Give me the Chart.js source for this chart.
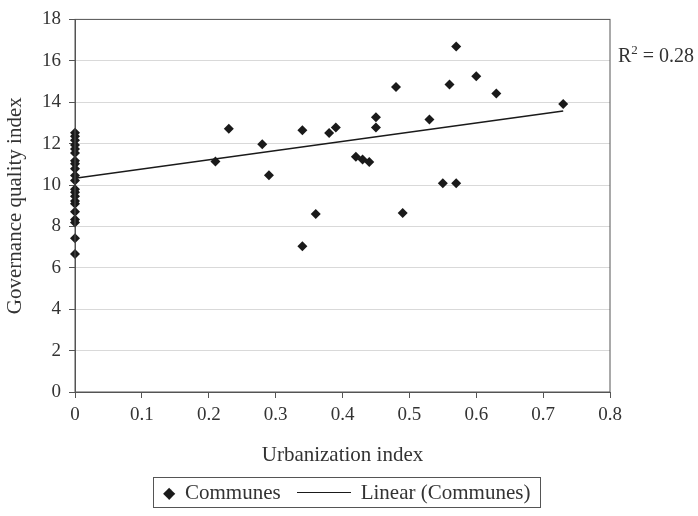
<!DOCTYPE html>
<html>
<head>
<meta charset="utf-8">
<script src="https://cdn.jsdelivr.net/npm/chart.js@4"></script>
<style>
  html, body { margin: 0; padding: 0; background: #fff; }
  #wrap { position: relative; width: 698px; height: 516px; }
  #chart { position: absolute; left: 0; top: 0; }
  #legend {
    position: absolute; left: 153px; top: 477px; width: 388px; height: 31px;
    border: 1px solid #555; box-sizing: border-box; padding-left: 9px;
    display: flex; align-items: center; white-space: nowrap;
    font-family: "Liberation Serif", serif; font-size: 21px; color: #333;
  }
  #legend .dia { font-size: 16px; color: #1a1a1a; margin-right: 10px; }
  #legend .ln { display: inline-block; width: 54px; border-top: 1.5px solid #1a1a1a; margin: 0 10px 0 16px; }
</style>
</head>
<body>
<div id="wrap">
  <canvas id="chart" width="698" height="516"></canvas>
  <div id="legend"><span class="dia">&#9670;</span>Communes<span class="ln"></span>Linear (Communes)</div>
</div>
<script>
// ─── Data ───────────────────────────────────────────────────────────────────

const urbanization = [
  0, 0, 0, 0, 0, 0, 0, 0, 0, 0, 0, 0, 0, 0, 0, 0, 0, 0, 0, 0, 0,
  0.21, 0.23, 0.28, 0.29, 0.34, 0.34, 0.36, 0.38, 0.39, 0.42, 0.43, 0.44,
  0.45, 0.45, 0.48, 0.49, 0.53, 0.55, 0.56, 0.57, 0.57, 0.60, 0.63, 0.73,
];
const governance = [
  12.52, 12.35, 12.16, 11.93, 11.74, 11.55, 11.17, 11.03, 10.79, 10.46, 10.22,
  9.80, 9.65, 9.46, 9.23, 9.09, 8.71, 8.33, 8.19, 7.43, 6.67,
  11.14, 12.72, 11.97, 10.47, 12.64, 7.04, 8.60, 12.51, 12.78, 11.36, 11.23, 11.11,
  13.27, 12.78, 14.73, 8.65, 13.17, 10.08, 14.86, 16.69, 10.08, 15.25, 14.42, 13.91,
];
const trendX = [0, 0.73];
const trendY = [10.32, 13.57];
const rSquaredLabel = '0.28';

const xTicks = [0, 0.1, 0.2, 0.3, 0.4, 0.5, 0.6, 0.7, 0.8];
const yTicks = [0, 2, 4, 6, 8, 10, 12, 14, 16, 18];

// ─── Styles ─────────────────────────────────────────────────────────────────

const FONT = '"Liberation Serif", serif';
const TEXT = '#333';
const AXIS = '#555';

const points = urbanization.map((x, i) => ({ x, y: governance[i] }));
const trend = trendX.map((x, i) => ({ x, y: trendY[i] }));

// frame round the plot area + R² label
const framePlugin = {
  id: 'frame',
  afterDraw(chart) {
    const { ctx, chartArea: a } = chart;
    ctx.save();
    ctx.strokeStyle = AXIS;
    ctx.lineWidth = 1;
    ctx.strokeRect(a.left, a.top, a.right - a.left, a.bottom - a.top);

    // R² = ...
    ctx.fillStyle = TEXT;
    ctx.textBaseline = 'alphabetic';
    let x = 618, y = 62;
    ctx.font = `20px ${FONT}`;
    ctx.fillText('R', x, y);
    x += ctx.measureText('R').width;
    ctx.font = `13px ${FONT}`;
    ctx.fillText('2', x, y - 8);
    x += ctx.measureText('2').width;
    ctx.font = `20px ${FONT}`;
    ctx.fillText(' = ' + rSquaredLabel, x, y);
    ctx.restore();
  },
};

new Chart(document.getElementById('chart'), {
  type: 'scatter',
  data: {
    datasets: [
      {
        label: 'Communes',
        data: points,
        clip: false,
        pointStyle: 'rectRot',
        pointRadius: 5,
        pointHoverRadius: 5,
        backgroundColor: '#1a1a1a',
        borderColor: '#1a1a1a',
        borderWidth: 0,
      },
      {
        type: 'line',
        label: 'Linear (Communes)',
        data: trend,
        borderColor: '#1a1a1a',
        borderWidth: 1.5,
        pointRadius: 0,
        fill: false,
      },
    ],
  },
  options: {
    responsive: false,
    animation: false,
    layout: { padding: { left: 0, right: 88, top: 12, bottom: 48 } },
    plugins: {
      legend: { display: false },
      tooltip: { enabled: false },
    },
    scales: {
      x: {
        type: 'linear',
        min: 0,
        max: 0.8,
        afterBuildTicks: (s) => { s.ticks = xTicks.map((v) => ({ value: v })); },
        afterFit: (s) => { s.height = 76; },
        ticks: {
          color: TEXT,
          font: { family: FONT, size: 19 },
          padding: 6,
          callback: (v) => String(Math.round(v * 10) / 10),
        },
        grid: { drawOnChartArea: false, tickLength: 6, color: AXIS },
        border: { color: AXIS, width: 1 },
        title: {
          display: true,
          text: 'Urbanization index',
          color: TEXT,
          font: { family: FONT, size: 21 },
          padding: 0,
        },
      },
      y: {
        type: 'linear',
        min: 0,
        max: 18,
        afterBuildTicks: (s) => { s.ticks = yTicks.map((v) => ({ value: v })); },
        afterFit: (s) => { s.width = 75; },
        ticks: {
          color: TEXT,
          font: { family: FONT, size: 19 },
          padding: 8,
        },
        grid: { color: '#d9d9d9', tickColor: AXIS, tickLength: 6 },
        border: { color: AXIS, width: 1 },
        title: {
          display: true,
          text: 'Governance quality index',
          color: TEXT,
          font: { family: FONT, size: 21 },
          padding: 3,
        },
      },
    },
  },
  plugins: [framePlugin],
});
</script>
</body>
</html>
